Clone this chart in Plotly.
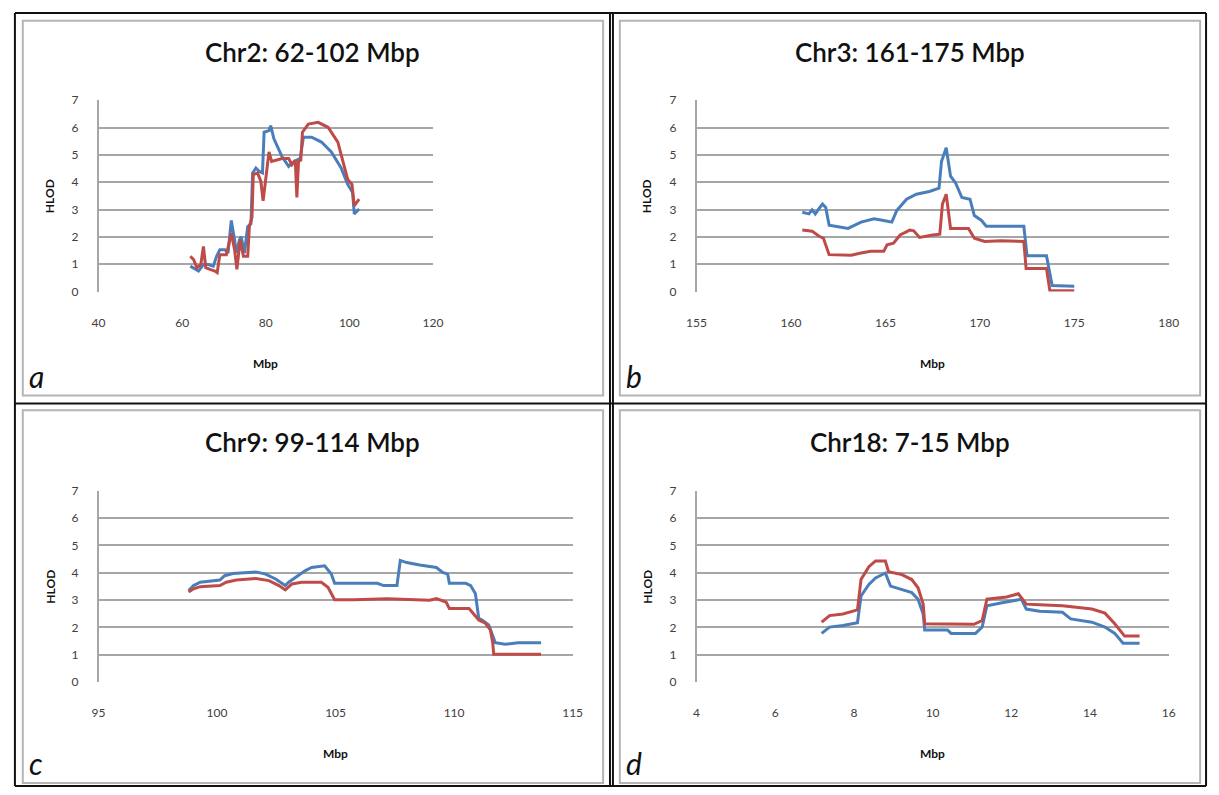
import plotly.graph_objects as go

W, H = 1219, 795

# ---- Chr2: 62-102 Mbp ----
a_blue_x = [61.96, 63.92, 65.10, 66.27, 67.45, 68.24, 69.02, 70.20, 70.98, 71.76, 72.55, 72.94,
            73.73, 74.12, 74.90, 75.69, 76.47, 76.86, 77.65, 78.43, 79.22, 79.61, 80.78, 81.18,
            81.96, 83.14, 83.92, 85.49, 86.27, 87.45, 88.24, 89.02, 90.98, 93.33, 95.69, 98.04,
            99.61, 100.78, 101.18, 102.35]
a_blue_y = [0.93, 0.75, 0.99, 0.99, 0.93, 1.29, 1.53, 1.53, 1.41, 2.60, 1.89, 1.41,
            1.89, 2.01, 1.41, 2.37, 2.49, 4.34, 4.52, 4.40, 4.34, 5.83, 5.89, 6.07,
            5.59, 5.17, 4.93, 4.58, 4.70, 4.81, 4.87, 5.65, 5.65, 5.47, 5.11, 4.52,
            3.92, 3.62, 2.84, 3.02]
a_red_x = [61.96, 62.75, 63.53, 64.47, 65.10, 65.65, 66.67, 67.84, 68.39, 69.02, 70.59, 71.76,
           72.55, 73.10, 73.88, 74.67, 75.69, 76.08, 76.71, 77.02, 78.04, 78.82, 79.37, 80.00,
           80.78, 81.41, 83.92, 85.49, 86.27, 87.06, 87.45, 87.84, 88.39, 88.78, 90.20, 92.55,
           94.90, 97.25, 99.61, 100.63, 101.18, 102.35]
a_red_y = [1.29, 1.17, 0.87, 0.99, 1.65, 0.87, 0.81, 0.75, 0.69, 1.35, 1.35, 2.13,
           1.53, 0.81, 1.89, 1.29, 1.29, 2.37, 2.72, 4.28, 4.34, 4.04, 3.32, 4.16,
           5.11, 4.76, 4.87, 4.87, 4.64, 4.81, 3.44, 4.76, 4.81, 5.83, 6.13, 6.19,
           6.01, 5.47, 4.10, 3.92, 3.14, 3.38]

# ---- Chr3: 161-175 Mbp ----
b_blue_x = [160.60, 160.95, 161.12, 161.29, 161.47, 161.67, 161.84, 162.02, 162.50, 163.02,
            163.71, 164.40, 164.91, 165.34, 165.60, 166.12, 166.64, 167.33, 167.84, 167.97,
            168.22, 168.45, 168.71, 169.05, 169.48, 169.71, 170.09, 170.34, 172.33, 172.50,
            173.53, 173.83, 175.00]
b_blue_y = [2.90, 2.84, 2.99, 2.84, 3.02, 3.20, 3.08, 2.43, 2.37, 2.31,
            2.54, 2.66, 2.60, 2.54, 2.96, 3.38, 3.56, 3.66, 3.78, 4.76,
            5.26, 4.22, 3.98, 3.44, 3.38, 2.78, 2.60, 2.39, 2.39, 1.31,
            1.31, 0.22, 0.19]
b_red_x = [160.60, 161.12, 161.47, 161.72, 162.02, 163.19, 163.71, 164.22, 164.91, 165.09,
           165.43, 165.78, 166.29, 166.50, 166.81, 167.16, 167.50, 167.88, 168.02, 168.22,
           168.45, 169.40, 169.71, 170.26, 171.12, 172.33, 172.45, 173.53, 173.71, 175.00]
b_red_y = [2.25, 2.21, 2.03, 1.95, 1.35, 1.33, 1.41, 1.47, 1.47, 1.71,
           1.77, 2.07, 2.25, 2.22, 1.98, 2.03, 2.07, 2.10, 3.20, 3.56,
           2.31, 2.31, 1.95, 1.83, 1.86, 1.83, 0.84, 0.84, 0.03, 0.03]

# ---- Chr9: 99-114 Mbp ----
c_blue_x = [98.80, 99.01, 99.29, 100.12, 100.32, 100.67, 101.64, 102.05, 102.47, 102.88,
            103.02, 103.30, 103.71, 103.99, 104.54, 104.82, 104.96, 105.79, 106.76, 107.03,
            107.59, 107.73, 108.00, 108.55, 109.25, 109.52, 109.73, 109.80, 110.49, 110.70,
            110.90, 111.04, 111.18, 111.46, 111.60, 111.74, 112.15, 112.70, 113.67]
c_blue_y = [3.35, 3.53, 3.65, 3.73, 3.89, 3.97, 4.03, 3.95, 3.77, 3.53,
            3.65, 3.83, 4.07, 4.19, 4.25, 3.95, 3.61, 3.61, 3.61, 3.53,
            3.53, 4.45, 4.37, 4.28, 4.19, 4.01, 3.95, 3.61, 3.61, 3.53,
            3.23, 2.33, 2.27, 2.09, 1.79, 1.44, 1.38, 1.44, 1.44]
c_red_x = [98.80, 99.01, 99.29, 100.12, 100.39, 100.81, 101.64, 102.19, 102.61, 102.88,
           103.16, 103.57, 104.40, 104.68, 104.96, 105.79, 107.17, 108.55, 108.97, 109.25,
           109.66, 109.80, 110.63, 111.04, 111.32, 111.53, 111.63, 111.67, 112.70, 113.67]
c_red_y = [3.29, 3.41, 3.49, 3.53, 3.65, 3.73, 3.79, 3.71, 3.53, 3.37,
           3.59, 3.65, 3.65, 3.47, 3.01, 3.01, 3.05, 3.01, 2.99, 3.05,
           2.93, 2.69, 2.69, 2.27, 2.15, 1.91, 1.44, 1.02, 1.02, 1.02]

# ---- Chr18: 7-15 Mbp ----
d_blue_x = [7.18, 7.38, 7.72, 8.09, 8.18, 8.38, 8.55, 8.80, 8.93, 9.22,
            9.47, 9.63, 9.76, 9.80, 10.38, 10.47, 11.09, 11.26, 11.38, 11.80,
            12.26, 12.38, 12.72, 13.30, 13.51, 14.05, 14.38, 14.63, 14.84, 15.26]
d_blue_y = [1.78, 2.01, 2.07, 2.17, 3.15, 3.57, 3.81, 3.99, 3.51, 3.39,
            3.27, 3.03, 2.49, 1.90, 1.90, 1.78, 1.78, 2.01, 2.79, 2.91,
            3.03, 2.67, 2.59, 2.55, 2.31, 2.19, 2.01, 1.78, 1.42, 1.42]
d_red_x = [7.18, 7.38, 7.72, 8.09, 8.18, 8.38, 8.55, 8.80, 8.88, 9.22,
           9.47, 9.63, 9.76, 9.80, 11.05, 11.26, 11.38, 11.88, 12.18, 12.38,
           12.72, 13.30, 14.05, 14.38, 14.63, 14.88, 15.26]
d_red_y = [2.19, 2.43, 2.49, 2.64, 3.75, 4.22, 4.43, 4.43, 4.04, 3.93,
           3.75, 3.45, 2.85, 2.13, 2.11, 2.25, 3.03, 3.11, 3.23, 2.85,
           2.83, 2.79, 2.67, 2.52, 2.13, 1.68, 1.68]

titles = ["Chr2: 62-102 Mbp", "Chr3: 161-175 Mbp", "Chr9: 99-114 Mbp", "Chr18: 7-15 Mbp"]
letters = ["a", "b", "c", "d"]
x_ranges = [[40, 120], [155, 180], [95, 115], [4, 16]]
x_dticks = [20, 5, 5, 2]
y_ticks = [0, 1, 2, 3, 4, 5, 6, 7]

BLUE = "#4A7EBB"
RED = "#BE4B48"
GRID = "#A6A6A6"
FONT = "Lato"

# pixel layout: panel frame and plot area, each as (left, right, top, bottom)
panels = [
    dict(frame=(13, 603, 13, 395), plot=(90, 430, 94, 289)),
    dict(frame=(620, 1210, 13, 395), plot=(698, 1178, 94, 289)),
    dict(frame=(13, 603, 410, 790), plot=(90, 572, 492, 687)),
    dict(frame=(620, 1210, 410, 790), plot=(698, 1178, 492, 687)),
]
series = [
    (a_blue_x, a_blue_y, a_red_x, a_red_y),
    (b_blue_x, b_blue_y, b_red_x, b_red_y),
    (c_blue_x, c_blue_y, c_red_x, c_red_y),
    (d_blue_x, d_blue_y, d_red_x, d_red_y),
]


def px(x):
    return x / W


def py(y):
    return 1 - y / H


fig = go.Figure()
shapes = []
annotations = []

for i, (p, s) in enumerate(zip(panels, series)):
    n = "" if i == 0 else str(i + 1)
    xa, ya = "x" + n, "y" + n
    bx, by, rx, ry = s
    fig.add_trace(go.Scatter(x=bx, y=by, mode="lines", xaxis=xa, yaxis=ya,
                             line=dict(color=BLUE, width=3), showlegend=False,
                             hoverinfo="skip"))
    fig.add_trace(go.Scatter(x=rx, y=ry, mode="lines", xaxis=xa, yaxis=ya,
                             line=dict(color=RED, width=3), showlegend=False,
                             hoverinfo="skip"))
    l, r, t, b = p["plot"]
    fig.layout["xaxis" + n] = dict(
        domain=[px(l), px(r)], range=x_ranges[i], dtick=x_dticks[i], tick0=0,
        showgrid=False, zeroline=False, showline=False, ticks="",
        ticklabelstandoff=22, anchor=ya, fixedrange=True,
        tickfont=dict(family=FONT, size=12, color="#404040"),
    )
    fig.layout["yaxis" + n] = dict(
        domain=[py(b), py(t)], range=[0, 7], tickvals=y_ticks,
        showgrid=True, gridcolor=GRID, gridwidth=2, zeroline=False,
        showline=True, linecolor=GRID, linewidth=1.5, ticks="",
        ticklabelstandoff=16, anchor=xa, fixedrange=True,
        tickfont=dict(family=FONT, size=12, color="#404040"),
    )

    fl, fr, ft, fb = p["frame"]
    shapes.append(dict(type="rect", xref="paper", yref="paper",
                       x0=px(fl), x1=px(fr), y0=py(fb), y1=py(ft),
                       line=dict(color="#B4B4B4", width=2)))
    cx = (fl + fr) / 2
    annotations.append(dict(text=titles[i], x=px(cx), y=py(ft + 32), xref="paper", yref="paper",
                            showarrow=False, xanchor="center", yanchor="middle",
                            font=dict(family=FONT, size=26, color="#111111", weight=600)))
    annotations.append(dict(text="Mbp", x=px((l + r) / 2), y=py(b + 73), xref="paper", yref="paper",
                            showarrow=False, xanchor="center", yanchor="middle",
                            font=dict(family=FONT, size=12, color="#111111", weight="bold")))
    annotations.append(dict(text="HLOD", x=px(fl + 28), y=py((t + b) / 2), xref="paper", yref="paper",
                            showarrow=False, textangle=-90, xanchor="center", yanchor="middle",
                            font=dict(family=FONT, size=12, color="#111111", weight="bold")))
    annotations.append(dict(text="<i>" + letters[i] + "</i>", x=px(fl + 4), y=py(fb - 20),
                            xref="paper", yref="paper", showarrow=False,
                            xanchor="left", yanchor="middle",
                            font=dict(family=FONT, size=30, color="#111111")))

# outer black frame and dividers
black = dict(color="#111111", width=2)
for x0, y0, x1, y1 in [(5, 5, 1216, 5), (5, 793, 1216, 793), (5, 5, 5, 793), (1216, 5, 1216, 793),
                       (610, 5, 610, 793), (613, 5, 613, 793), (5, 403, 1216, 403)]:
    shapes.append(dict(type="line", xref="paper", yref="paper",
                       x0=px(x0), y0=py(y0), x1=px(x1), y1=py(y1), line=black))

fig.update_layout(
    width=W, height=H, margin=dict(l=0, r=0, t=0, b=0),
    paper_bgcolor="white", plot_bgcolor="white",
    shapes=shapes, annotations=annotations,
)

fig.write_html("out.html", config={"displayModeBar": False})
